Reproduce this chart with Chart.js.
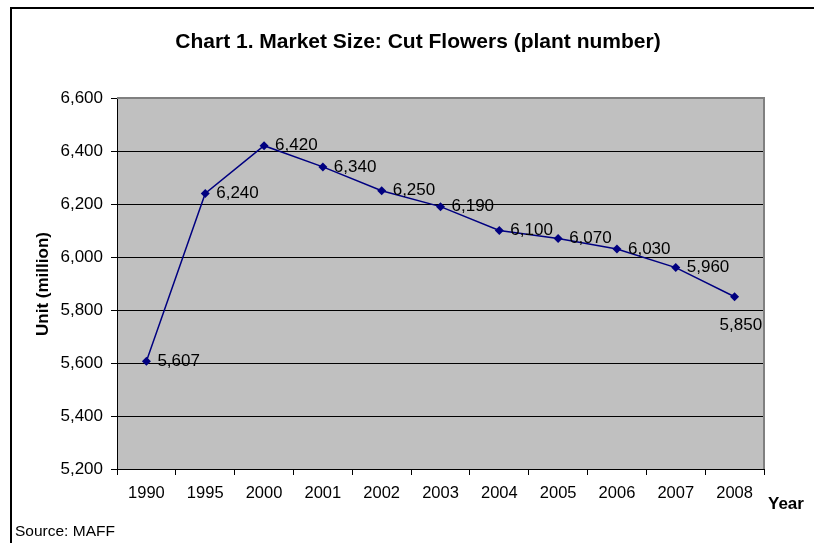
<!DOCTYPE html>
<html><head><meta charset="utf-8">
<script src="https://cdn.jsdelivr.net/npm/chart.js@4"></script>
<style>html,body{margin:0;padding:0;background:#fff}#wrap{width:814px;height:543px;position:relative}</style>
</head><body><div id="wrap"><canvas id="c" width="814" height="543"></canvas></div>
<script>
const years = ['1990','1995','2000','2001','2002','2003','2004','2005','2006','2007','2008'];
const marketSize = [5607, 6240, 6420, 6340, 6250, 6190, 6100, 6070, 6030, 5960, 5850];
const yTicks = [5200, 5400, 5600, 5800, 6000, 6200, 6400, 6600];
const titleText = 'Chart 1. Market Size: Cut Flowers (plant number)';
const yTitle = 'Unit (million)';
const xTitle = 'Year';
const sourceText = 'Source: MAFF';
const labelBelow = [false,false,false,false,false,false,false,false,false,false,true];

const FONT = '"Liberation Sans", Arial, sans-serif';
const fmt = v => v.toLocaleString('en-US');

const decor = {
  id: 'decor',
  beforeDraw(chart) {
    const {ctx, chartArea: a} = chart;
    ctx.save();
    ctx.fillStyle = '#fff';
    ctx.fillRect(0, 0, chart.width, chart.height);
    ctx.fillStyle = '#C0C0C0';
    ctx.fillRect(a.left, a.top, a.right - a.left, a.bottom - a.top);
    ctx.restore();
  },
  beforeDatasetsDraw(chart) {
    const {ctx, chartArea: a} = chart;
    ctx.save();
    ctx.strokeStyle = '#808080';
    ctx.lineWidth = 2;
    ctx.beginPath();
    ctx.moveTo(a.left, a.top);
    ctx.lineTo(a.right, a.top);
    ctx.lineTo(a.right, a.bottom);
    ctx.stroke();
    ctx.restore();
  },
  afterDraw(chart) {
    const {ctx} = chart;
    ctx.save();
    ctx.strokeStyle = '#000';
    ctx.lineWidth = 2;
    ctx.beginPath();
    ctx.moveTo(11, chart.height + 2);
    ctx.lineTo(11, 8);
    ctx.lineTo(chart.width + 2, 8);
    ctx.stroke();
    ctx.fillStyle = '#000';
    ctx.textAlign = 'center';
    ctx.textBaseline = 'middle';
    ctx.font = 'bold 21px ' + FONT;
    ctx.fillText(titleText, 418, 42);
    ctx.save();
    ctx.translate(43, 284);
    ctx.rotate(-Math.PI / 2);
    ctx.font = 'bold 17px ' + FONT;
    ctx.fillText(yTitle, 0, 0);
    ctx.restore();
    ctx.font = 'bold 17px ' + FONT;
    ctx.textAlign = 'left';
    ctx.fillText(xTitle, 768, 504);
    ctx.font = '15.5px ' + FONT;
    ctx.fillText(sourceText, 15, 532);
    const meta = chart.getDatasetMeta(0);
    ctx.font = '17px ' + FONT;
    meta.data.forEach((p, i) => {
      const t = fmt(chart.data.datasets[0].data[i]);
      ctx.textAlign = 'left';
      if (labelBelow[i]) {
        ctx.fillText(t, p.x - 15, p.y + 29);
      } else {
        ctx.fillText(t, p.x + 11, p.y);
      }
    });
    ctx.restore();
  }
};

new Chart(document.getElementById('c'), {
  type: 'line',
  data: {
    labels: years,
    datasets: [{
      data: marketSize,
      borderColor: '#000080',
      backgroundColor: '#000080',
      borderWidth: 1.5,
      pointStyle: 'rectRot',
      pointRadius: 4.5,
      pointBorderWidth: 0,
      pointBackgroundColor: '#000080',
      tension: 0
    }]
  },
  options: {
    responsive: false,
    animation: false,
    events: [],
    layout: { padding: { left: 0, right: 50, top: 98, bottom: 0 } },
    plugins: { legend: { display: false }, tooltip: { enabled: false }, title: { display: false } },
    scales: {
      x: {
        offset: true,
        grid: { offset: true, drawOnChartArea: false, drawTicks: true, tickLength: 6, color: '#000', tickWidth: 1 },
        border: { display: true, color: '#000', width: 1 },
        ticks: { color: '#000', font: { family: FONT, size: 16.5 }, padding: 9, maxRotation: 0, autoSkip: false },
        afterFit(s) { s.height = 74; }
      },
      y: {
        min: 5200, max: 6600,
        afterBuildTicks(s) { s.ticks = yTicks.map(v => ({ value: v })); },
        grid: { color: '#000', lineWidth: 1, tickLength: 6, drawTicks: true },
        border: { display: true, color: '#000', width: 1 },
        ticks: { color: '#000', font: { family: FONT, size: 17 }, padding: 8, callback: v => fmt(v) },
        afterFit(s) { s.width = 117; }
      }
    }
  },
  plugins: [decor]
});
</script>
</body></html>
